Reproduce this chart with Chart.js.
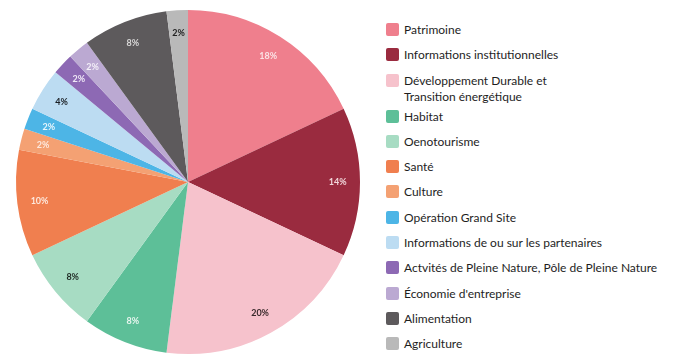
<!DOCTYPE html>
<html>
<head>
<meta charset="utf-8">
<script src="https://cdn.jsdelivr.net/npm/chart.js@4"></script>
<style>
  body { margin: 0; background: #fff; width: 676px; height: 356px; overflow: hidden; position: relative; font-family: "Lato", sans-serif; }
  #pieBox { position: absolute; left: 0; top: 0; width: 376px; height: 356px; }
  #legend { position: absolute; left: 386px; top: 22px; }
  .item { display: flex; align-items: flex-start; font-size: 12px; color: #1e1e1e; line-height: 16px; margin-bottom: 9.3px; }
  .item.multi { margin-bottom: 4px; }
  .box { width: 13px; height: 13px; border-radius: 2px; margin-right: 5px; margin-top: 1px; flex: none; }
</style>
</head>
<body>
<div id="pieBox"><canvas id="pieChart"></canvas></div>
<div id="legend"></div>
<script>
// catégories et valeurs (%)
const categories = [
    'Patrimoine',
    'Informations institutionnelles',
    ['Développement Durable et', 'Transition énergétique'],
    'Habitat',
    'Oenotourisme',
    'Santé',
    'Culture',
    'Opération Grand Site',
    'Informations de ou sur les partenaires',
    'Actvités de Pleine Nature, Pôle de Pleine Nature',
    'Économie d\'entreprise',
    'Alimentation',
    'Agriculture'
];
const values = [18, 14, 20, 8, 8, 10, 2, 2, 4, 2, 2, 8, 2];
const colors = ['#ef7f8d', '#9a2b3f', '#f6c2cc', '#5dbf98', '#a7dcc3', '#f07f4f', '#f4a173', '#4db5e6',
                '#bcdcf2', '#8d69b4', '#bba9d2', '#5d5a5c', '#b9b9b9'];
const labelColors = ['#fbe3e6', '#f1d6da', '#3a2a2c', '#e8f6ef', '#1f2a24', '#fde8dd', '#fde8dd', '#e6f5fc',
                     '#1a1f24', '#efe8f6', '#f3eff8', '#d9d8d8', '#222222'];

// étiquettes de pourcentage sur les parts
const pctLabels = {
    id: 'pctLabels',
    afterDatasetsDraw(chart) {
        const ctx = chart.ctx;
        const meta = chart.getDatasetMeta(0);
        ctx.save();
        ctx.font = 'bold 9px "Lato", sans-serif';
        ctx.textAlign = 'center';
        ctx.textBaseline = 'middle';
        meta.data.forEach((arc, i) => {
            const mid = (arc.startAngle + arc.endAngle) / 2;
            const r = arc.outerRadius * 0.87;
            ctx.fillStyle = labelColors[i];
            ctx.fillText(values[i] + '%', arc.x + Math.cos(mid) * r, arc.y + Math.sin(mid) * r);
        });
        ctx.restore();
    }
};

const ctxPie = document.getElementById('pieChart').getContext('2d');
const pieChart = new Chart(ctxPie, {
    type: 'pie',
    data: {
        labels: categories,
        datasets: [{
            data: values,
            backgroundColor: colors,
            borderWidth: 0
        }]
    },
    options: {
        responsive: true,
        maintainAspectRatio: false,
        animation: false,
        layout: { padding: { top: 10, bottom: 2, left: 16, right: 16 } },
        plugins: {
            legend: { display: false },
            tooltip: { enabled: false }
        }
    },
    plugins: [pctLabels]
});

// légende à droite
const legend = document.getElementById('legend');
categories.forEach((cat, i) => {
    const row = document.createElement('div');
    row.className = Array.isArray(cat) ? 'item multi' : 'item';
    const box = document.createElement('span');
    box.className = 'box';
    box.style.background = colors[i];
    const txt = document.createElement('span');
    txt.innerHTML = Array.isArray(cat) ? cat.join('<br>') : cat;
    row.appendChild(box);
    row.appendChild(txt);
    legend.appendChild(row);
});
</script>
</body>
</html>
